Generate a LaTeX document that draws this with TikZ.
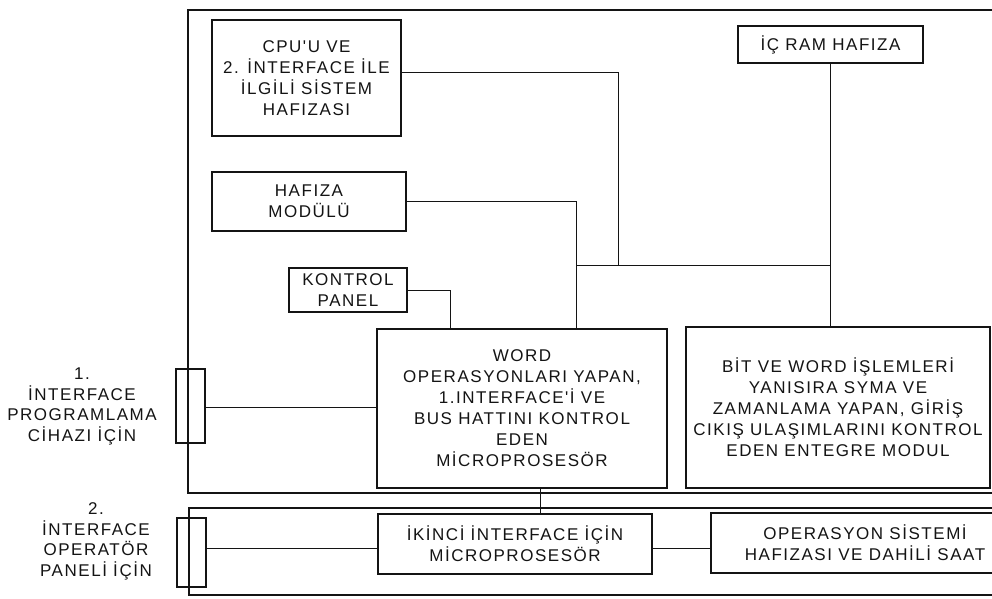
\documentclass[tikz,border=0pt]{standalone}
\usepackage{fontspec}
\usepackage{tikz}
\usetikzlibrary{positioning, calc}
\newfontfamily\blokfont[LetterSpace=9]{Liberation Sans}
\definecolor{cInk}{RGB}{20,20,20}
\tikzset{
	blok/.style   ={rectangle, draw=cInk, line width=1.2pt, align=center, inner sep=0pt, text=cInk, font=\blokfont\fontsize{17}{21}\selectfont},
	etiket/.style ={align=center, inner sep=0pt, text=cInk, font=\blokfont\fontsize{17}{20.5}\selectfont},
	port/.style   ={rectangle, draw=cInk, line width=1.2pt, minimum width=29pt, inner sep=0pt},
	hat/.style    ={draw=cInk, line width=1pt},
	cerceve/.style={draw=cInk, line width=1.6pt},
}
\begin{document}
\begin{tikzpicture}[x=1pt, y=-1pt]
	\clip (0,0) rectangle (992,598);
	\fill[white] (0,0) rectangle (992,598);
	% frames
	\draw[cerceve] (995,10) -- (188,10) -- (188,493) -- (995,493);
	\draw[cerceve] (995,508) -- (189,508) -- (189,595) -- (995,595);
	% modules
	\node[blok, minimum width=189pt, minimum height=116pt] (cpu) at (306.5,78) {CPU'U VE\\2. İNTERFACE İLE\\İLGİLİ SİSTEM\\HAFIZASI};
	\node[blok, minimum width=194pt, minimum height=59pt] (hafiza) at (309,201.5) {HAFIZA\\MODÜLÜ};
	\node[blok, minimum width=118pt, minimum height=44pt] (kontrol) at (348,290) {KONTROL\\PANEL};
	\node[blok, minimum width=185pt, minimum height=37pt] (ram) at (830.5,44.5) {İÇ RAM HAFIZA};
	\node[blok, minimum width=290pt, minimum height=159pt] (word) at (522,408.5) {WORD\\OPERASYONLARI YAPAN,\\1.INTERFACE'İ VE\\BUS HATTINI KONTROL\\EDEN\\MİCROPROSESÖR};
	\node[blok, minimum width=304pt, minimum height=161pt] (bit) at (838,407.5) {BİT VE WORD İŞLEMLERİ\\YANISIRA SYMA VE\\ZAMANLAMA YAPAN, GİRİŞ\\CIKIŞ ULAŞIMLARINI KONTROL\\EDEN ENTEGRE MODUL};
	\node[blok, minimum width=274pt, minimum height=60pt] (ikinci) at (515,544) {İKİNCİ İNTERFACE İÇİN\\MİCROPROSESÖR};
	\node[blok, minimum width=308pt, minimum height=60pt] (opsis) at (865,543) {OPERASYON SİSTEMİ\\HAFIZASI VE DAHİLİ SAAT};
	% interface ports
	\node[port, minimum height=74pt] (port1) at (190.5,406) {};
	\node[port, minimum height=69pt] (port2) at (191.5,552.5) {};
	\node[etiket] (lbl1) at (82,406.5) {1.\\İNTERFACE\\PROGRAMLAMA\\CİHAZI İÇİN};
	\node[etiket] (lbl2) at (96,541.5) {2.\\İNTERFACE\\OPERATÖR\\PANELİ İÇİN};
	% bus lines
	\coordinate (busL) at (576,265);
	\coordinate (cpuJ) at (618,265);
	\coordinate (kJ) at (450,329);
	\draw[hat] ([yshift=6pt]cpu.east) -| (cpuJ);
	\draw[hat] (hafiza.east) -| (busL |- word.north);
	\draw[hat] (busL) -- (busL -| ram.south);
	\draw[hat] (ram.south) -- (ram.south |- bit.north);
	\draw[hat] (kontrol.east) -| (kJ);
	\draw[hat] ([xshift=18pt]word.south) -- ([xshift=18pt]word.south |- ikinci.north);
	\draw[hat] ([yshift=-1pt]port1.east) -- ([yshift=-1pt]port1.east -| word.west);
	\draw[hat] ([yshift=-4pt]ikinci.west) -- ([yshift=-4pt]ikinci.west -| port2.east);
	\draw[hat] ([yshift=-4pt]ikinci.east) -- ([yshift=-4pt]ikinci.east -| opsis.west);
\end{tikzpicture}
\end{document}
